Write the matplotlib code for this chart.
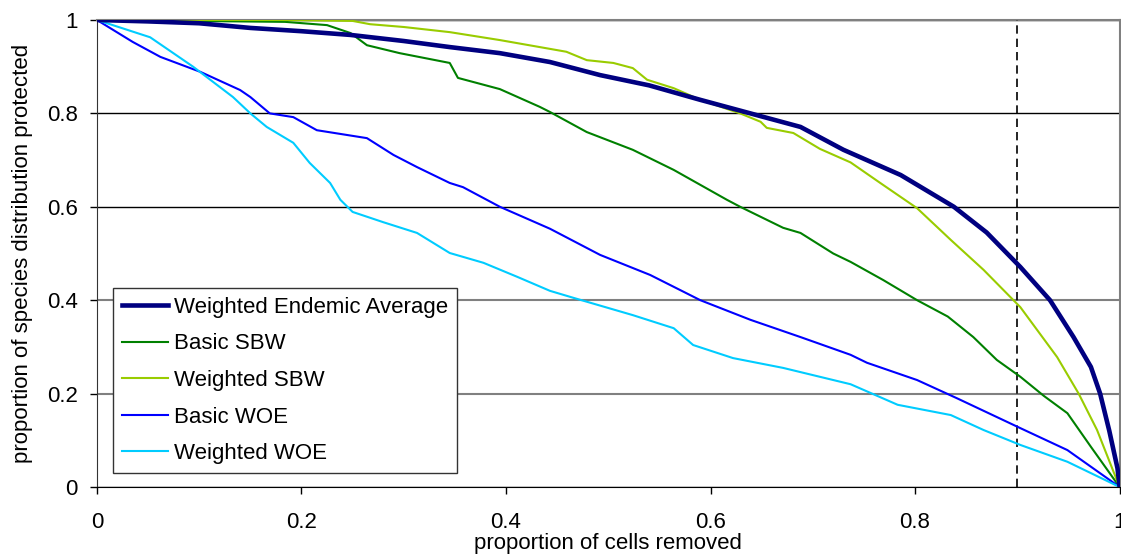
import matplotlib
matplotlib.use("Agg")
import matplotlib.pyplot as plt

plt.rcParams['font.family'] = ['Liberation Sans', 'DejaVu Sans']

# Weighted Endemic Average
wea_x = [0, 0.05, 0.1, 0.15, 0.2, 0.248, 0.3, 0.345, 0.394, 0.443, 0.492, 0.54, 0.59,
         0.639, 0.688, 0.73, 0.786, 0.838, 0.87, 0.903, 0.932, 0.955, 0.972, 0.981,
         0.99, 0.998, 1]
wea_y = [1, 0.997, 0.993, 0.983, 0.976, 0.968, 0.955, 0.942, 0.929, 0.91, 0.882, 0.86,
         0.829, 0.80, 0.771, 0.722, 0.668, 0.60, 0.545, 0.471, 0.40, 0.321, 0.257, 0.20,
         0.12, 0.04, 0]

# Basic SBW
bsbw_x = [0, 0.184, 0.225, 0.248, 0.264, 0.296, 0.345, 0.353, 0.394, 0.433, 0.443, 0.479,
          0.524, 0.564, 0.616, 0.629, 0.671, 0.688, 0.72, 0.737, 0.769, 0.802, 0.832,
          0.857, 0.880, 0.903, 0.926, 0.949, 0.972, 1]
bsbw_y = [1, 0.996, 0.989, 0.972, 0.946, 0.929, 0.908, 0.876, 0.852, 0.814, 0.803, 0.76,
          0.722, 0.679, 0.615, 0.60, 0.555, 0.544, 0.50, 0.482, 0.443, 0.40, 0.365,
          0.321, 0.272, 0.236, 0.195, 0.158, 0.086, 0]

# Weighted SBW
wsbw_x = [0, 0.18, 0.25, 0.267, 0.3, 0.345, 0.394, 0.459, 0.479, 0.505, 0.524, 0.538,
          0.564, 0.590, 0.629, 0.649, 0.655, 0.681, 0.707, 0.737, 0.766, 0.802, 0.835,
          0.867, 0.903, 0.939, 0.96, 0.978, 1]
wsbw_y = [1, 1, 0.998, 0.991, 0.985, 0.974, 0.957, 0.932, 0.914, 0.908, 0.897, 0.872,
          0.854, 0.829, 0.80, 0.782, 0.769, 0.758, 0.724, 0.695, 0.651, 0.597, 0.529,
          0.465, 0.385, 0.278, 0.2, 0.122, 0]

# Basic WOE
bwoe_x = [0, 0.035, 0.062, 0.101, 0.140, 0.150, 0.169, 0.192, 0.215, 0.264, 0.290, 0.313,
          0.345, 0.358, 0.394, 0.443, 0.492, 0.541, 0.590, 0.639, 0.688, 0.737, 0.753,
          0.802, 0.841, 0.903, 0.949, 1]
bwoe_y = [1, 0.953, 0.921, 0.889, 0.850, 0.835, 0.80, 0.792, 0.764, 0.747, 0.711, 0.685,
          0.651, 0.642, 0.60, 0.553, 0.497, 0.454, 0.40, 0.358, 0.321, 0.283, 0.266,
          0.229, 0.19, 0.126, 0.079, 0]

# Weighted WOE
wwoe_x = [0, 0.052, 0.094, 0.133, 0.15, 0.166, 0.192, 0.208, 0.228, 0.238, 0.250, 0.280,
          0.313, 0.345, 0.378, 0.411, 0.443, 0.466, 0.524, 0.564, 0.583, 0.622, 0.671,
          0.737, 0.783, 0.835, 0.867, 0.903, 0.949, 1]
wwoe_y = [1, 0.963, 0.90, 0.835, 0.80, 0.771, 0.737, 0.694, 0.651, 0.615, 0.589, 0.567,
          0.544, 0.501, 0.48, 0.45, 0.42, 0.405, 0.368, 0.34, 0.304, 0.276, 0.255,
          0.220, 0.176, 0.154, 0.122, 0.09, 0.054, 0]

threshold = 0.9
x_ticks = [0, 0.2, 0.4, 0.6, 0.8, 1]
x_tick_labels = ['0', '0.2', '0.4', '0.6', '0.8', '1']
y_ticks = [0, 0.2, 0.4, 0.6, 0.8, 1]
y_tick_labels = ['0', '0.2', '0.4', '0.6', '0.8', '1']

FS = 16

fig = plt.figure(figsize=(11.21, 5.60), dpi=100)
ax = fig.add_axes([0.0865, 0.1304, 0.9122, 0.8339])

ax.plot(wea_x, wea_y, color='#000080', lw=3.3, label='Weighted Endemic Average', zorder=6)
ax.plot(bsbw_x, bsbw_y, color='#008000', lw=1.5, label='Basic SBW', zorder=5)
ax.plot(wsbw_x, wsbw_y, color='#99CC00', lw=1.5, label='Weighted SBW', zorder=5)
ax.plot(bwoe_x, bwoe_y, color='#0000FF', lw=1.5, label='Basic WOE', zorder=5)
ax.plot(wwoe_x, wwoe_y, color='#00CCFF', lw=1.5, label='Weighted WOE', zorder=5)
ax.axvline(threshold, color='black', lw=1.2, ls=(0, (5, 3)), zorder=4)

ax.set_xlim(0, 1)
ax.set_ylim(0, 1)
ax.set_xticks(x_ticks)
ax.set_xticklabels(x_tick_labels)
ax.set_yticks(y_ticks)
ax.set_yticklabels(y_tick_labels)
ax.tick_params(axis='both', direction='out', length=5, width=1, labelsize=FS)
ax.tick_params(axis='x', pad=13)
ax.tick_params(axis='y', pad=9)

ax.yaxis.grid(True, color='black', lw=1)
for val, gl in zip(y_ticks, ax.get_ygridlines()):
    if val in (0.2, 0.4):
        gl.set_color('#808080')
        gl.set_linewidth(1.5)
ax.set_axisbelow(True)

for s in ('top', 'right'):
    ax.spines[s].set_color('#808080')
    ax.spines[s].set_linewidth(1.5)
ax.spines['left'].set_color('#333333')
ax.spines['bottom'].set_color('black')

ax.set_xlabel('proportion of cells removed', fontsize=FS, labelpad=0)
ax.set_ylabel('proportion of species distribution protected', fontsize=FS, labelpad=10)

leg = ax.legend(loc='lower left', bbox_to_anchor=(0.0157, 0.03), fontsize=FS,
                frameon=True, fancybox=False, edgecolor='#333333', framealpha=1,
                handlelength=2.07, handletextpad=0.27, labelspacing=0.7,
                borderaxespad=0, borderpad=0.4)
leg.get_frame().set_linewidth(1)

fig.savefig('out.png', dpi=100)
